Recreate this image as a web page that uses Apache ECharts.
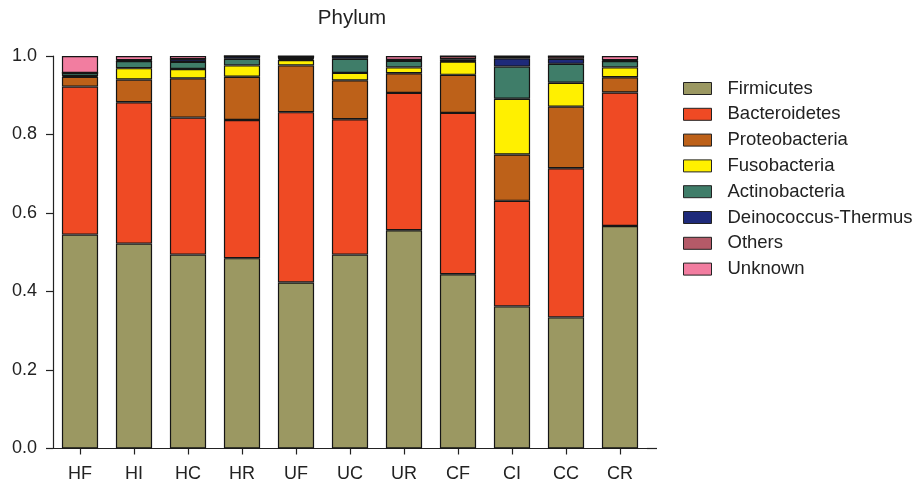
<!DOCTYPE html>
<html>
<head>
<meta charset="utf-8">
<script src="https://cdn.jsdelivr.net/npm/echarts@6/dist/echarts.min.js"></script>
<style>
  html, body { margin: 0; padding: 0; background: #fff; }
  #chart { width: 916px; height: 484px; }
</style>
</head>
<body>
<div id="chart"></div>
<script>
// Relative abundance of bacterial phyla per sample group
const categories = ['HF', 'HI', 'HC', 'HR', 'UF', 'UC', 'UR', 'CF', 'CI', 'CC', 'CR'];

const firmicutes     = [0.545, 0.522, 0.494, 0.485, 0.423, 0.494, 0.556, 0.444, 0.362, 0.334, 0.567];
const bacteroidetes  = [0.377, 0.360, 0.349, 0.352, 0.434, 0.345, 0.350, 0.411, 0.269, 0.380, 0.340];
const proteobacteria = [0.025, 0.058, 0.100, 0.110, 0.119, 0.099, 0.050, 0.097, 0.118, 0.157, 0.039];
const fusobacteria   = [0.002, 0.029, 0.024, 0.029, 0.014, 0.019, 0.015, 0.034, 0.142, 0.061, 0.025];
const actinobacteria = [0.008, 0.018, 0.018, 0.017, 0.003, 0.036, 0.017, 0.001, 0.082, 0.048, 0.016];
const deinococcus    = [0.000, 0.000, 0.007, 0.007, 0.001, 0.007, 0.000, 0.005, 0.021, 0.013, 0.000];
const others         = [0.000, 0.002, 0.000, 0.000, 0.006, 0.000, 0.002, 0.008, 0.006, 0.007, 0.002];
const unknown        = [0.043, 0.011, 0.008, 0.000, 0.000, 0.000, 0.010, 0.000, 0.000, 0.000, 0.011];

const yTicks = [0, 0.2, 0.4, 0.6, 0.8, 1.0];

const seriesDefs = [
  { name: 'Firmicutes',          data: firmicutes,     color: '#9b9862' },
  { name: 'Bacteroidetes',       data: bacteroidetes,  color: '#ef4a24' },
  { name: 'Proteobacteria',      data: proteobacteria, color: '#bd6119' },
  { name: 'Fusobacteria',        data: fusobacteria,   color: '#fff000' },
  { name: 'Actinobacteria',      data: actinobacteria, color: '#3f7d69' },
  { name: 'Deinococcus-Thermus', data: deinococcus,    color: '#1e2a7a' },
  { name: 'Others',              data: others,         color: '#b45a68' },
  { name: 'Unknown',             data: unknown,        color: '#f27da0' }
];

const FONT = '"Liberation Sans", Arial, Helvetica, sans-serif';
const INK = '#222';

const gridLeft = 53, gridRight = 269, gridTop = 56, gridBottom = 35.5;

const chart = echarts.init(document.getElementById('chart'), null, { renderer: 'canvas' });

chart.setOption({
  animation: false,
  backgroundColor: '#fff',
  title: {
    text: 'Phylum',
    left: 352,
    textAlign: 'center',
    top: 8,
    padding: 0,
    textStyle: { fontFamily: FONT, fontSize: 20.5, fontWeight: 'normal', color: INK }
  },
  legend: {
    orient: 'vertical',
    left: 683,
    top: 79,
    padding: 0,
    itemWidth: 28,
    itemHeight: 12,
    itemGap: 6.8,
    icon: 'rect',
    data: seriesDefs.map(s => s.name),
    textStyle: {
      fontFamily: FONT, fontSize: 18.5, color: INK,
      lineHeight: 18, padding: [0, 0, 0, 11]
    },
    itemStyle: { borderColor: '#222', borderWidth: 1 }
  },
  grid: { left: gridLeft, right: gridRight, top: gridTop, bottom: gridBottom, containLabel: false },
  xAxis: {
    type: 'category',
    data: categories,
    axisLine: { show: true, lineStyle: { color: INK, width: 1.2 } },
    axisTick: { show: true, alignWithLabel: true, length: 6, lineStyle: { color: INK, width: 1.2 } },
    axisLabel: { fontFamily: FONT, fontSize: 18, color: INK, margin: 17 },
    splitLine: { show: false }
  },
  yAxis: {
    type: 'value',
    min: yTicks[0],
    max: yTicks[yTicks.length - 1],
    interval: 0.2,
    axisLine: { show: true, lineStyle: { color: INK, width: 1.2 } },
    axisTick: { show: true, length: 7, lineStyle: { color: INK, width: 1.2 } },
    axisLabel: {
      fontFamily: FONT, fontSize: 18, color: INK, margin: 16,
      formatter: v => v.toFixed(1)
    },
    splitLine: { show: false }
  },
  series: seriesDefs.map(s => ({
    name: s.name,
    type: 'bar',
    stack: 'total',
    data: s.data,
    barCategoryGap: '33%',
    itemStyle: { color: s.color, borderColor: '#151515', borderWidth: 1.2 },
    emphasis: { disabled: true }
  }))
});

// Extend the x axis line a little past the last category band
const axisY = 484 - gridBottom;
const axisEnd = 916 - gridRight;
chart.setOption({
  graphic: [{
    type: 'line',
    shape: { x1: axisEnd, y1: axisY, x2: axisEnd + 10, y2: axisY },
    style: { stroke: INK, lineWidth: 1.2 },
    silent: true
  }]
});
</script>
</body>
</html>
